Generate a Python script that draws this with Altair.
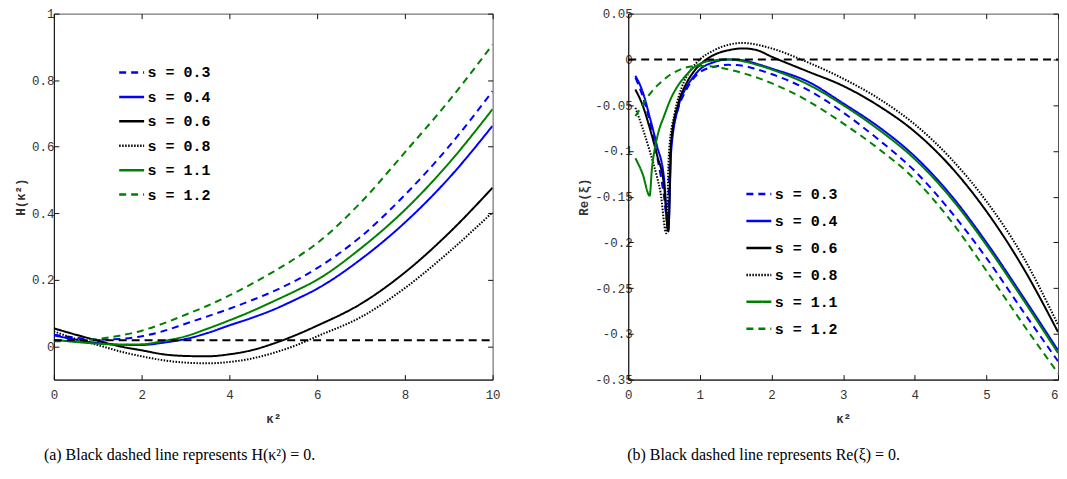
import altair as alt
import pandas as pd

# ---------------- shared series definitions ----------------
S_LABELS = ["s = 0.3", "s = 0.4", "s = 0.6", "s = 0.8", "s = 1.1", "s = 1.2"]
S_COLORS = ["#0000ff", "#0000ff", "#000000", "#000000", "#008000", "#008000"]
S_DASHES = [[7, 5], [1, 0], [1, 0], [1.5, 1.5], [1, 0], [7, 5]]

# ---------------- panel (a): H(kappa^2) ----------------
K_A = [0, 0.5, 1, 1.5, 2, 2.5, 3, 3.5, 4, 4.5, 5, 5.5, 6, 7, 8, 9, 10]
H_S03 = [0.035, 0.026, 0.020, 0.022, 0.030, 0.046, 0.068, 0.090, 0.113, 0.138, 0.165, 0.197, 0.235, 0.330, 0.455, 0.600, 0.767]
H_S04 = [0.033, 0.020, 0.010, 0.005, 0.004, 0.011, 0.022, 0.040, 0.063, 0.085, 0.110, 0.140, 0.173, 0.262, 0.372, 0.505, 0.663]
H_S06 = [0.054, 0.035, 0.017, 0.000, -0.012, -0.024, -0.029, -0.030, -0.024, -0.012, 0.008, 0.033, 0.062, 0.128, 0.222, 0.340, 0.477]
H_S08 = [0.045, 0.022, 0.004, -0.015, -0.030, -0.042, -0.049, -0.051, -0.047, -0.037, -0.020, 0.002, 0.030, 0.088, 0.175, 0.283, 0.403]
H_S11 = [0.020, 0.013, 0.008, 0.005, 0.006, 0.016, 0.030, 0.053, 0.078, 0.105, 0.135, 0.166, 0.200, 0.295, 0.410, 0.550, 0.713]
H_S12 = [0.015, 0.017, 0.022, 0.032, 0.047, 0.069, 0.095, 0.122, 0.153, 0.187, 0.224, 0.264, 0.310, 0.433, 0.583, 0.737, 0.907]
REF_A_K = [0, 10]
REF_A_H = [0.018, 0.018]
X_TICKS_A = [0, 2, 4, 6, 8, 10]
Y_TICKS_A = [0, 0.2, 0.4, 0.6, 0.8, 1]

# ---------------- panel (b): Re(xi) ----------------
B_K_S03 = [0.1, 0.2, 0.3, 0.4, 0.5, 0.55, 0.58, 0.62, 0.7, 0.8, 0.9, 1.0, 1.2, 1.4, 1.6, 1.8, 2.0, 2.5, 3.0, 3.5, 4.0, 4.5, 5.0, 5.5, 6.0]
B_R_S03 = [-0.020, -0.040, -0.068, -0.105, -0.150, -0.180, -0.110, -0.080, -0.053, -0.035, -0.022, -0.014, -0.008, -0.006, -0.007, -0.011, -0.016, -0.033, -0.058, -0.088, -0.122, -0.166, -0.217, -0.274, -0.330]
B_K_S04 = [0.1, 0.2, 0.3, 0.4, 0.5, 0.56, 0.6, 0.7, 0.8, 0.9, 1.0, 1.2, 1.4, 1.6, 1.8, 2.0, 2.5, 3.0, 3.5, 4.0, 4.5, 5.0, 5.5, 6.0]
B_R_S04 = [-0.018, -0.035, -0.063, -0.094, -0.130, -0.186, -0.100, -0.052, -0.032, -0.020, -0.011, -0.003, 0.000, -0.001, -0.005, -0.010, -0.024, -0.048, -0.074, -0.106, -0.148, -0.200, -0.258, -0.318]
B_K_S06 = [0.1, 0.2, 0.3, 0.4, 0.5, 0.56, 0.6, 0.7, 0.8, 0.9, 1.0, 1.2, 1.4, 1.6, 1.8, 2.0, 2.5, 3.0, 3.5, 4.0, 4.5, 5.0, 5.5, 6.0]
B_R_S06 = [-0.033, -0.050, -0.075, -0.104, -0.138, -0.188, -0.090, -0.048, -0.028, -0.015, -0.006, 0.005, 0.010, 0.012, 0.010, 0.003, -0.013, -0.029, -0.051, -0.079, -0.117, -0.166, -0.226, -0.298]
B_K_S08 = [0.1, 0.2, 0.3, 0.4, 0.45, 0.53, 0.57, 0.65, 0.75, 0.85, 0.95, 1.0, 1.2, 1.4, 1.6, 1.8, 2.0, 2.5, 3.0, 3.5, 4.0, 4.5, 5.0, 5.5, 6.0]
B_R_S08 = [-0.053, -0.075, -0.100, -0.128, -0.145, -0.190, -0.100, -0.058, -0.030, -0.014, -0.004, 0.000, 0.010, 0.016, 0.018, 0.016, 0.012, -0.003, -0.021, -0.043, -0.071, -0.108, -0.155, -0.214, -0.290]
B_K_S11 = [0.1, 0.2, 0.3, 0.33, 0.37, 0.42, 0.5, 0.6, 0.7, 0.8, 0.9, 1.0, 1.2, 1.4, 1.6, 1.8, 2.0, 2.5, 3.0, 3.5, 4.0, 4.5, 5.0, 5.5, 6.0]
B_R_S11 = [-0.108, -0.125, -0.149, -0.120, -0.098, -0.080, -0.062, -0.042, -0.028, -0.018, -0.010, -0.005, -0.001, 0.000, -0.002, -0.006, -0.011, -0.027, -0.050, -0.077, -0.109, -0.151, -0.203, -0.261, -0.321]
B_K_S12 = [0.1, 0.2, 0.3, 0.4, 0.5, 0.6, 0.7, 0.8, 1.0, 1.2, 1.4, 1.6, 1.8, 2.0, 2.5, 3.0, 3.5, 4.0, 4.5, 5.0, 5.5, 6.0]
B_R_S12 = [-0.062, -0.050, -0.038, -0.029, -0.022, -0.016, -0.012, -0.009, -0.007, -0.008, -0.011, -0.015, -0.020, -0.026, -0.045, -0.070, -0.098, -0.131, -0.176, -0.231, -0.288, -0.343]
REF_B_K = [0, 6]
REF_B_R = [0, 0]
X_TICKS_B = [0, 1, 2, 3, 4, 5, 6]
Y_TICKS_B = [-0.35, -0.3, -0.25, -0.2, -0.15, -0.1, -0.05, 0, 0.05]


def long_frame(pairs):
    rows = []
    for label, ks, vs in pairs:
        for k, v in zip(ks, vs):
            rows.append({"k": k, "v": v, "s": label})
    return pd.DataFrame(rows)


df_a = long_frame([(S_LABELS[0], K_A, H_S03), (S_LABELS[1], K_A, H_S04), (S_LABELS[2], K_A, H_S06),
                   (S_LABELS[3], K_A, H_S08), (S_LABELS[4], K_A, H_S11), (S_LABELS[5], K_A, H_S12)])
df_b = long_frame([(S_LABELS[0], B_K_S03, B_R_S03), (S_LABELS[1], B_K_S04, B_R_S04), (S_LABELS[2], B_K_S06, B_R_S06),
                   (S_LABELS[3], B_K_S08, B_R_S08), (S_LABELS[4], B_K_S11, B_R_S11), (S_LABELS[5], B_K_S12, B_R_S12)])
ref_a = pd.DataFrame({"k": REF_A_K, "v": REF_A_H})
ref_b = pd.DataFrame({"k": REF_B_K, "v": REF_B_R})

MONO = "Liberation Mono"
LABEL_EXPR = "replace(format(datum.value, '~g'), '\u2212', '-')"


def panel(df, ref, xdom, ydom, xticks, yticks, w, h, ytitle, caption, cap_dx,
          leg_x, leg_y, leg_rowpad, ylab_pad, xlabel_align):
    xs = alt.Scale(domain=xdom, nice=False, zero=False)
    ys = alt.Scale(domain=ydom, nice=False, zero=False)
    legend = alt.Legend(title=None, orient="none", legendX=leg_x, legendY=leg_y,
                        symbolType="stroke", symbolSize=625, symbolStrokeWidth=2.5,
                        labelFont=MONO, labelFontSize=15, labelFontWeight="bold",
                        labelColor="black", rowPadding=leg_rowpad, padding=0,
                        labelOffset=2)
    lines = alt.Chart(df).mark_line(strokeWidth=2, clip=True, interpolate="monotone").encode(
        x=alt.X("k:Q", scale=xs, axis=alt.Axis(orient="bottom", values=xticks, ticks=False,
                                                labelPadding=9, title="κ²", titlePadding=12,
                                                labelFlush=False, labelOverlap=False,
                                                labelAlign=xlabel_align,
                                                labelExpr=LABEL_EXPR, grid=False)),
        y=alt.Y("v:Q", scale=ys, axis=alt.Axis(orient="left", values=yticks, ticks=False,
                                                labelPadding=ylab_pad, title=ytitle, titlePadding=4,
                                                labelFlush=False, labelOverlap=False,
                                                labelExpr=LABEL_EXPR, grid=False)),
        color=alt.Color("s:N", scale=alt.Scale(domain=S_LABELS, range=S_COLORS), legend=legend),
        strokeDash=alt.StrokeDash("s:N", scale=alt.Scale(domain=S_LABELS, range=S_DASHES), legend=legend),
        order=alt.Order("k:Q"),
    )
    ref_line = alt.Chart(ref).mark_line(strokeWidth=2, strokeDash=[8, 5], color="black").encode(
        x=alt.X("k:Q", scale=xs, axis=alt.Axis(orient="top", values=xticks, labels=False, domain=False,
                                                tickSize=5, offset=-5, title=None, grid=False)),
        y=alt.Y("v:Q", scale=ys, axis=alt.Axis(orient="right", values=yticks, labels=False, domain=False,
                                                tickSize=5, offset=-5, title=None, grid=False)),
    )
    tick_layer = alt.Chart(ref).mark_line(opacity=0).encode(
        x=alt.X("k:Q", scale=xs, axis=alt.Axis(orient="bottom", values=xticks, labels=False, domain=False,
                                                tickSize=5, offset=-5, title=None, grid=False)),
        y=alt.Y("v:Q", scale=ys, axis=alt.Axis(orient="left", values=yticks, labels=False, domain=False,
                                                tickSize=5, offset=-5, title=None, grid=False)),
    )
    return alt.layer(lines, ref_line, tick_layer).resolve_axis(
        x="independent", y="independent"
    ).properties(
        width=w, height=h,
        title=alt.TitleParams(text=caption, orient="bottom", anchor="start", frame="group",
                              dx=cap_dx, offset=22, font="Liberation Serif", fontSize=16,
                              fontWeight="normal", color="black"),
    )


panel_a = panel(df_a, ref_a, [0, 10], [-0.1, 1], X_TICKS_A, Y_TICKS_A, 440, 367, "H(κ²)",
                "(a)  Black dashed line represents H(κ²) = 0.", -10, 64, 45, 2.5, 0, "center")
panel_b = panel(df_b, ref_b, [0, 6], [-0.35, 0.05], X_TICKS_B, Y_TICKS_B, 431, 367, "Re(ξ)",
                "(b)  Black dashed line represents Re(ξ) = 0.", -1, 117, 167, 5, -4,
                {"condition": {"test": "datum.value == 6", "value": "right"}, "value": "center"})

chart = alt.hconcat(panel_a, panel_b, spacing=75).resolve_legend(
    color="independent", strokeDash="independent"
).resolve_scale(
    color="independent", strokeDash="independent"
).properties(
    padding={"left": 5, "top": -2, "right": -4, "bottom": 0}
).configure_view(
    stroke="#555", strokeWidth=1
).configure_axis(
    labelFont=MONO, labelFontSize=12.5, labelColor="#333",
    titleFont=MONO, titleFontSize=12.5, titleFontWeight="bold", titleColor="#333",
    domainColor="#111", tickColor="#111"
)

chart.save("out.html", embed_options={"renderer": "svg", "actions": False})
